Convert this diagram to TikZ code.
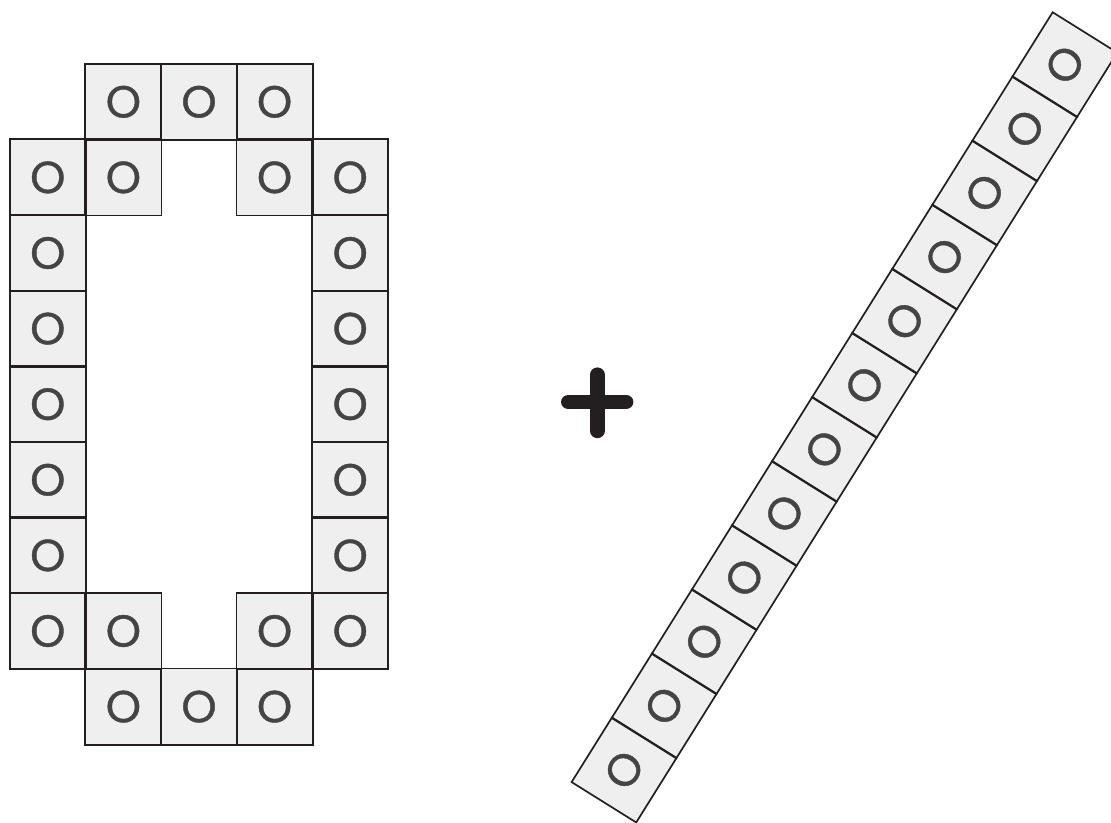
\documentclass[tikz,border=0pt]{standalone}
\usepackage{fontspec}
\setmainfont{Poppins}[FakeBold=0.9]
\usetikzlibrary{positioning, calc}
\definecolor{cellfill}{HTML}{EFEFEF}
\definecolor{celledge}{HTML}{231F20}
\definecolor{glyph}{HTML}{444444}
\definecolor{ink}{HTML}{231F20}

\begin{document}
\begin{tikzpicture}[
    every node/.style={font=\fontsize{32}{34}\selectfont},
    cell/.style={rectangle, fill=cellfill, minimum size=1.89cm,
                 inner sep=0pt, text=glyph},
    edge/.style={celledge, line width=1.2pt, line join=miter},
    plusbar/.style={ink, line width=10.5pt, line cap=round},
]
\useasboundingbox (0,0) rectangle (27.775,20.55);

% ================================================ the ring of cells
\begin{scope}[shift={(0.25,18.95)}, x=1.89cm, y=-1.89cm]
\foreach \c/\r in {1/0, 2/0, 3/0,
                   0/1, 1/1, 3/1, 4/1,
                   0/2, 4/2, 0/3, 4/3, 0/4, 4/4, 0/5, 4/5, 0/6, 4/6,
                   0/7, 1/7, 3/7, 4/7,
                   1/8, 2/8, 3/8}{
    \node[cell] (g\r-\c) at (\c+0.5, \r+0.5) {O};
}
\end{scope}

% outlines on top, so no fill hides a neighbour's edge
\foreach \c/\r in {1/0, 2/0, 3/0,
                   0/1, 1/1, 3/1, 4/1,
                   0/2, 4/2, 0/3, 4/3, 0/4, 4/4, 0/5, 4/5, 0/6, 4/6,
                   0/7, 1/7, 3/7, 4/7,
                   1/8, 2/8, 3/8}{
    \draw[edge] (g\r-\c.north west) rectangle (g\r-\c.south east);
}

% ================================================ plus
\coordinate (plus) at (14.93, 10.5);
\draw[plusbar] ($(plus)+(-0.72,0)$) -- ($(plus)+(0.72,0)$);
\draw[plusbar] ($(plus)+(0,0.68)$) -- ($(plus)+(0,-0.72)$);

% ================================================ the slanted bar
\begin{scope}[shift={(14.3,1.0)}, rotate=58]
\foreach \k in {0,...,11}{
    \node[cell, rotate=58] (s\k) at ({(\k+0.5)*1.89}, -0.945) {O};
}
\end{scope}
\foreach \k in {0,...,11}{
    \draw[edge] (s\k.north west) -- (s\k.north east) -- (s\k.south east)
        -- (s\k.south west) -- cycle;
}

\end{tikzpicture}
\end{document}
